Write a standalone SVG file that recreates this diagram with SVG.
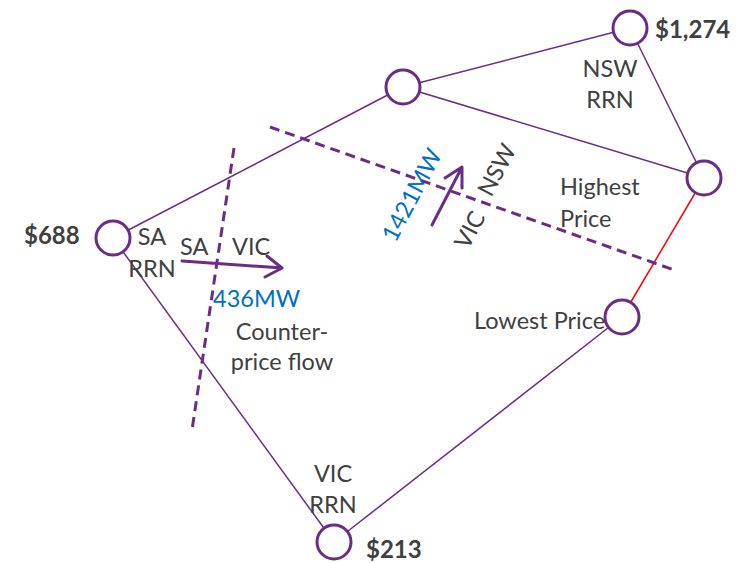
<svg xmlns="http://www.w3.org/2000/svg" width="736" height="563" viewBox="0 0 736 563">
<defs>
<style>
.edge{stroke:#6b2d84;stroke-width:1.5;fill:none}
.hot{stroke:#ff0000;stroke-width:1.5;fill:none}
.cut{stroke:#6b2d84;stroke-width:3;stroke-dasharray:10 6;fill:none}
.flow{stroke:#6b2d84;stroke-width:3;fill:none;stroke-linecap:round;stroke-linejoin:round}
.node{fill:#ffffff;stroke:#6b2d84;stroke-width:3}
.t{font-family:Lato,"Liberation Sans",sans-serif;font-size:23.5px;fill:#404040}
.b{font-family:Lato,"Liberation Sans",sans-serif;font-size:24px;font-weight:bold;fill:#404040}
.mw{font-family:Lato,"Liberation Sans",sans-serif;font-size:23.5px;fill:#0070c0}
</style>
</defs>
<g id="connectors">
<line class="edge" x1="113" y1="238" x2="403" y2="87"/>
<line class="edge" x1="403" y1="87" x2="630" y2="28"/>
<line class="edge" x1="403" y1="87" x2="704" y2="178"/>
<line class="edge" x1="630" y1="28" x2="704" y2="178"/>
<line class="hot" x1="704" y1="178" x2="622" y2="317"/>
<line class="edge" x1="622" y1="317" x2="334" y2="542"/>
<line class="edge" x1="113" y1="238" x2="334" y2="542"/>
</g>
<g id="cutsets">
<line class="cut" x1="234" y1="148" x2="192" y2="430"/>
<line class="cut" x1="270" y1="127" x2="677" y2="271"/>
</g>
<g id="flow-sa-vic">
<path class="flow" d="M182 261 L282 268 M267 256 L282 268 L265 277"/>
<text class="t" x="180" y="255">SA</text>
<text class="t" x="232" y="255">VIC</text>
<text class="mw" x="213" y="307">436MW</text>
<text class="t" x="282" y="340" text-anchor="middle">Counter-</text>
<text class="t" x="282" y="370" text-anchor="middle">price flow</text>
</g>
<g id="flow-vic-nsw">
<path class="flow" d="M432 225 L462 167 M445 178 L462 167 L462 188"/>
<text class="mw" transform="translate(412,195) rotate(-62)" x="0" y="8" text-anchor="middle">1421MW</text>
<text class="t" transform="translate(470,230) rotate(-62)" x="0" y="8" text-anchor="middle">VIC</text>
<text class="t" transform="translate(497,170) rotate(-62)" x="0" y="8" text-anchor="middle">NSW</text>
</g>
<g id="node-sa">
<circle class="node" cx="113" cy="238" r="17"/>
<text class="b" x="24" y="244">$688</text>
<text class="t" x="152" y="245" text-anchor="middle">SA</text>
<text class="t" x="152" y="277" text-anchor="middle">RRN</text>
</g>
<g id="node-mid">
<circle class="node" cx="403" cy="87" r="17"/>
</g>
<g id="node-nsw">
<circle class="node" cx="630" cy="28" r="17"/>
<text class="b" x="655" y="38">$1,274</text>
<text class="t" x="610" y="77" text-anchor="middle">NSW</text>
<text class="t" x="610" y="108" text-anchor="middle">RRN</text>
</g>
<g id="node-high">
<circle class="node" cx="704" cy="178" r="17"/>
<text class="t" x="560" y="195">Highest</text>
<text class="t" x="560" y="227">Price</text>
</g>
<g id="node-low">
<circle class="node" cx="622" cy="317" r="17"/>
<text class="t" x="474" y="329">Lowest Price</text>
</g>
<g id="node-vic">
<circle class="node" cx="334" cy="542" r="17"/>
<text class="t" x="333" y="482" text-anchor="middle">VIC</text>
<text class="t" x="333" y="513" text-anchor="middle">RRN</text>
<text class="b" x="366" y="558">$213</text>
</g>
</svg>
